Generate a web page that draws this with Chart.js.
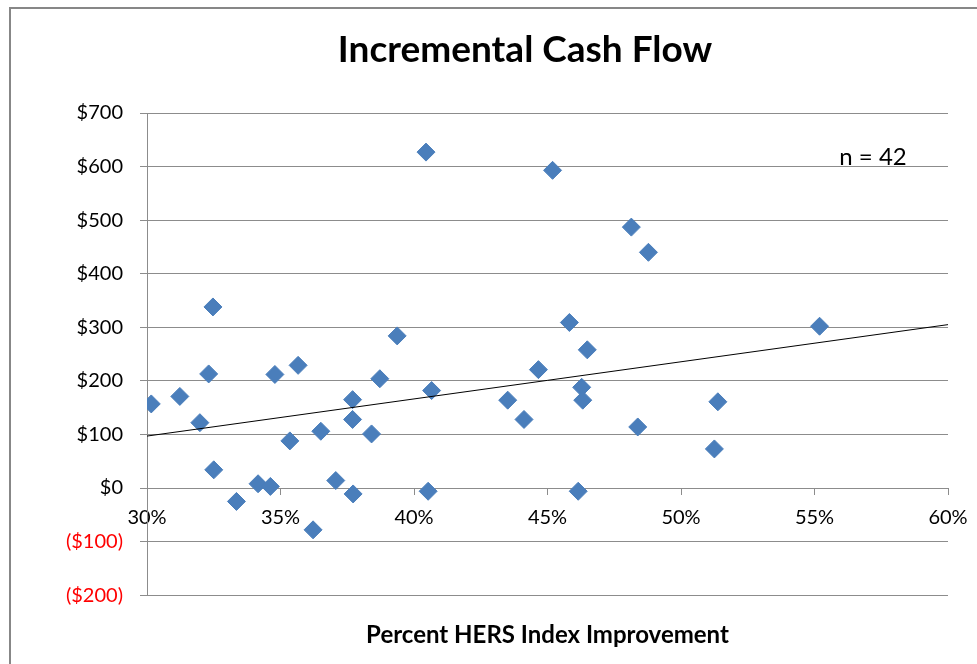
<!DOCTYPE html>
<html>
<head>
<meta charset="utf-8">
<script src="https://cdn.jsdelivr.net/npm/chart.js@4.4.1/dist/chart.umd.min.js"></script>
<style>
  html, body { margin: 0; padding: 0; background: #fff; overflow: hidden; }
  #frame { position: absolute; left: 9px; top: 7px; width: 1000px; height: 700px;
           border-left: 2px solid #878787; border-top: 2px solid #878787; }
  #chart { position: absolute; left: 0; top: 0; }
</style>
</head>
<body>
<div id="frame"></div>
<canvas id="chart" width="977" height="664"></canvas>
<script>
// percent HERS index improvement vs incremental cash flow ($)
const xValues = [30.16, 31.23, 31.98, 32.31, 32.47, 32.50, 33.35, 34.16, 34.62, 34.79,
                 35.35, 35.66, 36.22, 36.51, 37.07, 37.70, 37.70, 37.72, 38.41, 38.72,
                 39.37, 40.45, 40.53, 40.66, 43.51, 44.12, 44.66, 45.19, 45.82, 46.15,
                 46.28, 46.32, 46.49, 48.14, 48.38, 48.78, 51.25, 51.38, 55.19];
const yValues = [157, 171, 122, 213, 338, 34, -25, 8, 3, 212,
                 88, 229, -78, 106, 14, 165, 128, -11, 101, 204,
                 284, 627, -6, 182, 164, 128, 221, 593, 309, -6,
                 188, 164, 258, 487, 114, 440, 73, 161, 302];
const trendX = [30, 60];
const trendY = [97, 305];

const xTickValues = [30, 35, 40, 45, 50, 55, 60];
const xTickLabels = ['30%', '35%', '40%', '45%', '50%', '55%', '60%'];
const yTickValues = [-200, -100, 0, 100, 200, 300, 400, 500, 600, 700];
const yTickLabels = ['($200)', '($100)', '$0', '$100', '$200', '$300', '$400', '$500', '$600', '$700'];

const titleText = 'Incremental Cash Flow';
const xTitleText = 'Percent HERS Index Improvement';
const noteText = 'n = 42';

const gridGray = '#8c8c8c';
const font = 'Lato';

const points = xValues.map((x, i) => ({ x: x, y: yValues[i] }));
const trend = trendX.map((x, i) => ({ x: x, y: trendY[i] }));

// main title sits a bit left of the plot centre, so draw it ourselves
const titlePlugin = {
    id: 'mainTitle',
    afterDraw(chart) {
        const ctx = chart.ctx;
        ctx.save();
        ctx.font = 'bold 37px ' + font;
        ctx.fillStyle = '#000';
        ctx.textAlign = 'center';
        ctx.textBaseline = 'alphabetic';
        ctx.fillText(titleText, 525, 62);
        ctx.restore();
    }
};

// "n = 42" note in the upper right
const notePlugin = {
    id: 'note',
    afterDatasetsDraw(chart) {
        const ctx = chart.ctx;
        ctx.save();
        ctx.font = '24px ' + font;
        ctx.fillStyle = '#000';
        ctx.textAlign = 'left';
        ctx.textBaseline = 'middle';
        ctx.fillText(noteText, chart.scales.x.getPixelForValue(55.93), chart.scales.y.getPixelForValue(617));
        ctx.restore();
    }
};

new Chart(document.getElementById('chart'), {
    type: 'scatter',
    data: {
        datasets: [
            {
                type: 'line',
                data: trend,
                borderColor: '#000',
                borderWidth: 1,
                pointRadius: 0,
                order: 0
            },
            {
                data: points,
                pointStyle: 'rectRot',
                pointRadius: 9,
                pointHoverRadius: 9,
                backgroundColor: '#4A7EBB',
                borderColor: '#4A7EBB',
                borderWidth: 1,
                order: 1
            }
        ]
    },
    options: {
        responsive: false,
        animation: false,
        devicePixelRatio: 1,
        layout: { padding: { left: 0, right: 29, top: 113, bottom: 0 } },
        plugins: {
            legend: { display: false },
            tooltip: { enabled: false },
            title: { display: false },
            subtitle: {
                display: true,
                position: 'bottom',
                fullSize: false,
                text: xTitleText,
                color: '#000',
                font: { family: font, size: 24, weight: 'bold' },
                padding: { top: 26, bottom: 14 }
            }
        },
        scales: {
            x: {
                type: 'linear',
                position: { y: 0 },
                min: 30,
                max: 60,
                afterBuildTicks: s => { s.ticks = xTickValues.map(v => ({ value: v })); },
                afterFit: s => { s.paddingLeft = 0; s.paddingRight = 0; },
                ticks: {
                    callback: v => xTickLabels[xTickValues.indexOf(v)],
                    color: '#000',
                    font: { family: font, size: 20 },
                    padding: 12,
                    maxRotation: 0
                },
                grid: { drawOnChartArea: false, drawTicks: true, tickLength: 6, color: gridGray },
                border: { display: true, color: gridGray }
            },
            y: {
                type: 'linear',
                min: -200,
                max: 700,
                afterBuildTicks: s => { s.ticks = yTickValues.map(v => ({ value: v })); },
                afterFit: s => { s.width = 147; },
                ticks: {
                    callback: v => yTickLabels[yTickValues.indexOf(v)],
                    color: c => (c.tick && c.tick.value < 0 ? '#ff0000' : '#000'),
                    font: { family: font, size: 20 },
                    padding: 17
                },
                grid: { color: gridGray, tickLength: 7 },
                border: { display: true, color: gridGray }
            }
        }
    },
    plugins: [titlePlugin, notePlugin]
});
</script>
</body>
</html>
